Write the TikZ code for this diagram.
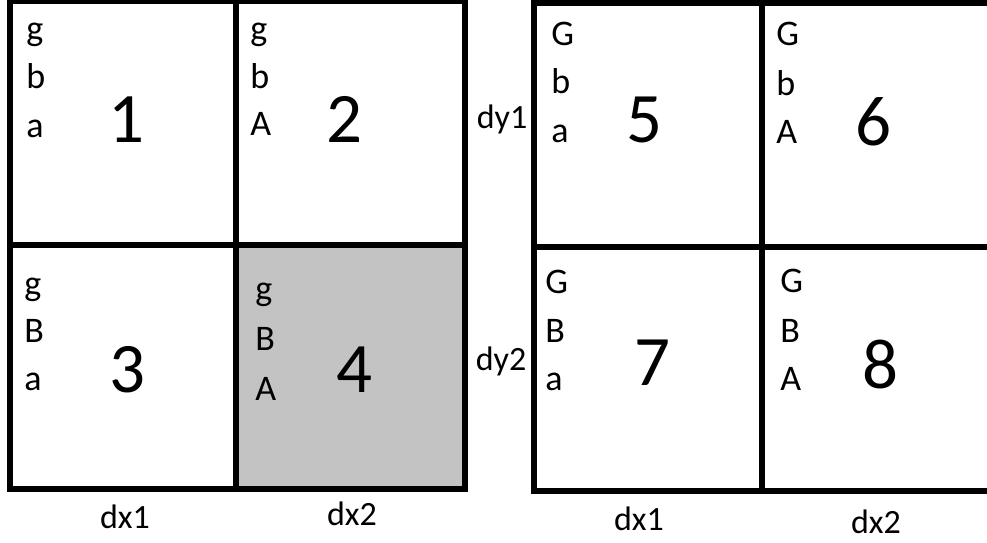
\documentclass[tikz,border=0pt]{standalone}
\usepackage{fontspec}
\setmainfont{Carlito}
\definecolor{cellgray}{HTML}{C3C3C3}

\begin{document}
\begin{tikzpicture}[
    x=0.5pt, y=-0.5pt,
    gridline/.style={line width=3.2pt, line join=miter},
    gene/.style={anchor=base west, inner sep=0pt, font=\fontsize{18}{22}\selectfont},
    cellnum/.style={anchor=base, inner sep=0pt, font=\fontsize{35.5}{40}\selectfont},
    axis/.style={anchor=base, inner sep=0pt, font=\fontsize{17}{20}\selectfont},
]
\useasboundingbox (0,0) rectangle (987,542);

% ── Left square (cells 1-4) ────────────────────────────────────────────────
\fill[cellgray] (236,245) rectangle (465,489);
\draw[gridline] (10,1) rectangle (465,489);
\draw[gridline] (236,1) -- (236,489);
\draw[gridline] (10,245) -- (465,245);

% ── Right square (cells 5-8) ───────────────────────────────────────────────
\draw[gridline] (534,3) rectangle (993,491);
\draw[gridline] (762,3) -- (762,491);
\draw[gridline] (534,247) -- (993,247);

% ── Cell contents ──────────────────────────────────────────────────────────
\node[gene] (c1g) at (26,40)   {g};
\node[gene] (c1b) at (26,88)   {b};
\node[gene] (c1a) at (26,137)  {a};
\node[cellnum] (n1) at (126,142) {1};

\node[gene] (c2g) at (250,40)  {g};
\node[gene] (c2b) at (250,88)  {b};
\node[gene] (c2a) at (250,135) {A};
\node[cellnum] (n2) at (344,142) {2};

\node[gene] (c3g) at (24,295)  {g};
\node[gene] (c3b) at (24,342)  {B};
\node[gene] (c3a) at (24,390)  {a};
\node[cellnum] (n3) at (127,392) {3};

\node[gene] (c4g) at (255,300) {g};
\node[gene] (c4b) at (255,350) {B};
\node[gene] (c4a) at (255,400) {A};
\node[cellnum] (n4) at (354,392) {4};

\node[gene] (c5g) at (551,45)  {G};
\node[gene] (c5b) at (551,93)  {b};
\node[gene] (c5a) at (551,142) {a};
\node[cellnum] (n5) at (644,142) {5};

\node[gene] (c6g) at (776,45)  {G};
\node[gene] (c6b) at (776,95)  {b};
\node[gene] (c6a) at (776,143) {A};
\node[cellnum] (n6) at (873,145) {6};

\node[gene] (c7g) at (545,293) {G};
\node[gene] (c7b) at (545,342) {B};
\node[gene] (c7a) at (545,390) {a};
\node[cellnum] (n7) at (652,385) {7};

\node[gene] (c8g) at (780,292) {G};
\node[gene] (c8b) at (780,342) {B};
\node[gene] (c8a) at (780,390) {A};
\node[cellnum] (n8) at (880,388) {8};

% ── Axis labels ────────────────────────────────────────────────────────────
\node[axis] (lx1) at (125,528) {dx1};
\node[axis] (lx2) at (352,525) {dx2};
\node[axis] (ly1) at (502,128) {dy1};
\node[axis] (ly2) at (501,370) {dy2};
\node[axis] (rx1) at (639,530) {dx1};
\node[axis] (rx2) at (876,533) {dx2};

\end{tikzpicture}
\end{document}
